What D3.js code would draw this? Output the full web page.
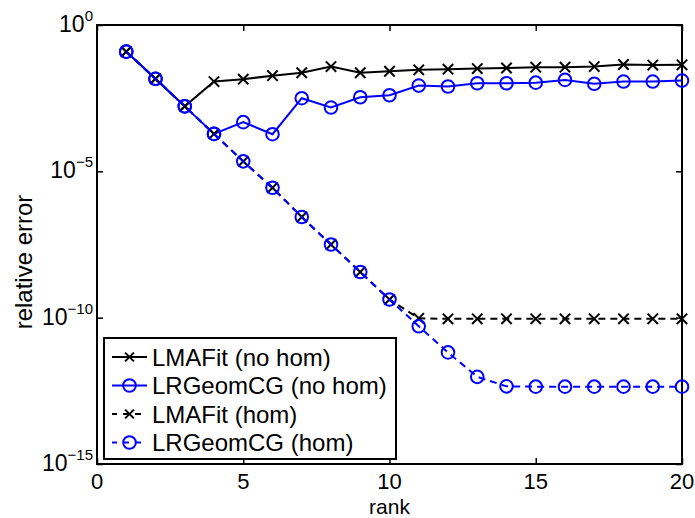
<!DOCTYPE html>
<html>
<head>
<meta charset="utf-8">
<script src="https://cdn.jsdelivr.net/npm/d3@7"></script>
<style>
  html, body { margin: 0; padding: 0; background: #fff; }
  svg { display: block; font-family: "Liberation Sans", Arial, Helvetica, sans-serif; }
</style>
</head>
<body>
<svg id="chart" width="695" height="518"></svg>
<script>
const ranks = [1,2,3,4,5,6,7,8,9,10,11,12,13,14,15,16,17,18,19,20];
const lmafitNoHom = [0.123, 0.0145, 0.00166, 0.0117, 0.0141, 0.0186, 0.0234, 0.038, 0.0234, 0.0263,
                     0.0295, 0.0309, 0.0324, 0.0339, 0.0363, 0.0363, 0.038, 0.0447, 0.0427, 0.0437];
const lrgeomNoHom = [0.123, 0.0145, 0.00166, 1.9e-4, 4.8e-4, 1.86e-4, 3.16e-3, 1.51e-3, 3.39e-3, 3.98e-3,
                     8.5e-3, 7.9e-3, 0.0102, 0.0102, 0.0107, 0.0133, 0.0098, 0.0117, 0.0117, 0.0126];
const lmafitHom = [0.123, 0.0145, 0.00166, 1.9e-4, 2.19e-5, 2.75e-6, 2.75e-7, 3.16e-8, 3.63e-9, 4.17e-10,
                   9.5e-11, 9.1e-11, 9.1e-11, 9.1e-11, 9.1e-11, 9.1e-11, 9.1e-11, 9.1e-11, 9.1e-11, 9.1e-11];
const lrgeomHom = [0.123, 0.0145, 0.00166, 1.9e-4, 2.19e-5, 2.75e-6, 2.75e-7, 3.16e-8, 3.63e-9, 4.17e-10,
                   5.1e-11, 6.5e-12, 9.5e-13, 4.5e-13, 4.4e-13, 4.4e-13, 4.4e-13, 4.4e-13, 4.4e-13, 4.4e-13];
const xTicks = [0, 5, 10, 15, 20];
const yTickExps = [0, -5, -10, -15];
const seriesNames = ["LMAFit (no hom)", "LRGeomCG (no hom)", "LMAFit (hom)", "LRGeomCG (hom)"];

const svg = d3.select("#chart");
const L = 97, R = 682, T = 25, B = 464;
const x = d3.scaleLinear().domain([0, 20]).range([L, R]);
const y = d3.scaleLog().domain([1e-15, 1]).range([B, T]);

const series = [
  {name: seriesNames[0], vals: lmafitNoHom, color: "#000", marker: "x", dash: null},
  {name: seriesNames[1], vals: lrgeomNoHom, color: "#0000ff", marker: "o", dash: null},
  {name: seriesNames[2], vals: lmafitHom, color: "#000", marker: "x", dash: "7,5"},
  {name: seriesNames[3], vals: lrgeomHom, color: "#0000ff", marker: "o", dash: "7,5"}
];

// frame
svg.append("rect").attr("x", L).attr("y", T).attr("width", R - L).attr("height", B - T)
  .attr("fill", "none").attr("stroke", "#000").attr("stroke-width", 2);

// axes via d3 axis, ticks inward
const tickLen = 6;
const xAxisB = svg.append("g").attr("transform", `translate(0,${B})`)
  .call(d3.axisTop(x).tickValues(xTicks).tickSize(tickLen).tickFormat(""));
const xAxisT = svg.append("g").attr("transform", `translate(0,${T})`)
  .call(d3.axisBottom(x).tickValues(xTicks).tickSize(tickLen).tickFormat(""));
const yTickVals = yTickExps.map(e => Math.pow(10, e));
const yAxisL = svg.append("g").attr("transform", `translate(${L},0)`)
  .call(d3.axisRight(y).tickValues(yTickVals).tickSize(tickLen).tickFormat(""));
const yAxisR = svg.append("g").attr("transform", `translate(${R},0)`)
  .call(d3.axisLeft(y).tickValues(yTickVals).tickSize(tickLen).tickFormat(""));
[xAxisB, xAxisT, yAxisL, yAxisR].forEach(g => {
  g.select(".domain").remove();
  g.selectAll(".tick line").attr("stroke", "#000").attr("stroke-width", 1.5);
});

// x tick labels
svg.append("g").selectAll("text").data(xTicks).join("text")
  .attr("x", d => x(d)).attr("y", 489)
  .attr("text-anchor", "middle").attr("font-size", 22).attr("fill", "#000")
  .text(d => d);

// y tick labels 10^e
const yl = svg.append("g").selectAll("text").data(yTickExps).join("text")
  .attr("x", L - 4).attr("y", d => y(Math.pow(10, d)) + 7)
  .attr("text-anchor", "end").attr("font-size", 23).attr("fill", "#000");
yl.append("tspan").text("10");
yl.append("tspan").attr("dy", -11).attr("font-size", 15)
  .text(d => d === 0 ? "0" : "\u2212" + Math.abs(d));

// axis titles
svg.append("text").attr("x", (L + R) / 2).attr("y", 513.5)
  .attr("text-anchor", "middle").attr("font-size", 21).text("rank");
svg.append("text").attr("transform", `translate(32,262) rotate(-90)`)
  .attr("text-anchor", "middle").attr("font-size", 24).text("relative error");

// lines and markers
const line = d3.line().x((d, i) => x(ranks[i])).y(d => y(d));
function drawMarker(g, type, color, cx, cy, r) {
  if (type === "o") {
    g.append("circle").attr("cx", cx).attr("cy", cy).attr("r", r)
      .attr("fill", "none").attr("stroke", color).attr("stroke-width", 2);
  } else {
    const s = r * 0.8;
    g.append("path").attr("d", `M${cx - s},${cy - s}L${cx + s},${cy + s}M${cx - s},${cy + s}L${cx + s},${cy - s}`)
      .attr("stroke", color).attr("stroke-width", 2).attr("fill", "none");
  }
}
const plotG = svg.append("g");
series.forEach(s => {
  const g = plotG.append("g");
  g.append("path").datum(s.vals).attr("d", line)
    .attr("fill", "none").attr("stroke", s.color).attr("stroke-width", 2)
    .attr("stroke-dasharray", s.dash);
  s.vals.forEach((v, i) => drawMarker(g, s.marker, s.color, x(ranks[i]), y(v), s.marker === "o" ? 6.3 : 6.5));
});

// legend
const lg = svg.append("g");
lg.append("rect").attr("x", 104).attr("y", 338).attr("width", 292).attr("height", 121)
  .attr("fill", "#fff").attr("stroke", "#000").attr("stroke-width", 2);
series.forEach((s, i) => {
  const cy = 357 + i * 28.5;
  lg.append("line").attr("x1", 112).attr("x2", 147).attr("y1", cy).attr("y2", cy)
    .attr("stroke", s.color).attr("stroke-width", 2)
    .attr("stroke-dasharray", s.dash ? "6,6" : null)
    .attr("stroke-dashoffset", s.dash ? 1 : null);
  drawMarker(lg, s.marker, s.color, 129.5, cy, s.marker === "o" ? 6.3 : 5.5);
  lg.append("text").attr("x", 152).attr("y", cy + 8.5)
    .attr("font-size", 24).attr("fill", "#000").text(s.name);
});
</script>
</body>
</html>
